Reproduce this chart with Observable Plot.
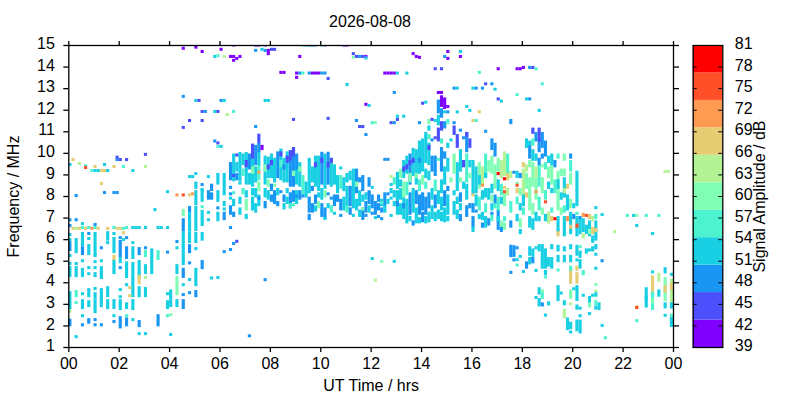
<!DOCTYPE html>
<html><head><meta charset="utf-8">
<script src="https://cdn.jsdelivr.net/npm/d3@7"></script>
<script src="https://cdn.jsdelivr.net/npm/@observablehq/plot@0.6"></script>
<style>
html,body{margin:0;padding:0;background:#fff;width:800px;height:400px;overflow:hidden}
#wrap{position:relative;width:800px;height:400px;font-family:"Liberation Sans",Arial,sans-serif}
#wrap svg{position:absolute;left:0;top:0;background:transparent;overflow:visible}
#title{position:absolute;left:270px;width:200px;top:13px;text-align:center;font-size:16px;color:#000}
</style></head><body><div id="wrap"><div id="title">2026-08-08</div></div>
<script>
const xTicks = [0,2,4,6,8,10,12,14,16,18,20,22,24];
const yTicks = [1,2,3,4,5,6,7,8,9,10,11,12,13,14,15];
const ampTicks = [39,42,45,48,51,54,57,60,63,66,69,72,75,78,81];
const ampEdges = [39,42.82,46.64,50.45,54.27,58.09,61.91,65.73,69.55,73.36,77.18,81];
const palette = ["#8000ff","#4c50fc","#1996f3","#19cfe3","#4df3ce","#80ffb4","#b3f396","#e6cd74","#ff9a52","#ff4f28","#ff0000"];

// each column: [hour, lowMHz, highMHz, dB, lowMHz, highMHz, dB, ...]
const nightColumns = [
[0,6.9,6.9,48,6.63,6.63,48,6.21,6.21,52,5.98,5.98,52,5.52,5.84,50,5.24,5.24,52,4.87,4.87,52,4.31,4.68,52,2.83,3.52,52,2.67,2.67,64,2.03,2.24,50,9.46,9.46,52],
[0.125,6.5,6.5,68,9.69,9.69,68],
[0.25,8.02,8.02,48,6.9,6.9,48,6.5,6.5,64,5.42,5.98,52,4.87,4.87,52,4.31,4.68,52,3.38,3.57,56,3.06,3.06,56,1.48,1.48,52],
[0.375,6.5,6.5,68,9.51,9.51,64],
[0.5,6.72,6.72,52,6.54,6.54,56,5.75,6.26,52,5.33,5.6,50,5,5,52,4.31,4.6,52,3.47,3.47,52,2.83,3.15,52,2.45,2.45,52,2.03,2.03,48],
[0.625,9.4,9.4,56,9.32,9.32,75,6.5,6.5,68],
[0.75,6.54,6.54,56,6.26,6.26,48,6.03,6.03,52,5.33,5.7,54,4.68,4.68,52,4.4,4.4,52,3.38,3.66,52,2.92,3.1,52,2.15,2.27,48],
[0.875,6.5,6.5,71,9.18,9.18,56],
[1,6.68,6.68,48,6.54,6.54,56,5.33,6.26,54,5.24,5.24,52,4.96,4.96,52,4.68,4.68,52,4.31,4.4,52,3.71,3.71,52,3.3,3.47,52,2.64,3.15,54,2.27,2.27,48,2.03,2.03,48,9.37,9.37,68,9.18,9.18,52],
[1.125,6.5,6.5,68,9.18,9.18,52],
[1.25,5.6,5.6,48,5,5,52,4.68,4.22,52,3.29,3.66,54,3.06,3.2,52,2.92,2.92,52,2.03,2.03,48,9.18,9.18,68,8.58,8.58,68],
[1.375,9.18,9.18,68,9.46,9.46,52,8.16,8.16,48],
[1.5,6.5,6.5,68,6,6.3,54,5.84,5.84,52,3.38,3.75,54,2.83,3.15,52,9.18,9.18,52],
[1.75,6.54,6.54,56,6.26,6.26,52,5.42,6.03,54,5.1,5.2,68,4.45,5,54,2.83,3.15,52,2.45,2.45,52,2.18,2.18,48,9.37,9.37,68,8.16,8.16,48],
[1.875,6.5,6.5,68,9.69,9.69,48,9.8,9.8,45,8.16,8.16,48],
[2,6.5,6.5,68,6.07,6.07,48,5.24,5.89,50,4.96,5.1,52,4.68,4.68,48,3.66,3.66,52,3.33,3.33,52,2.78,3.15,54,1.93,2.36,48,9.69,9.69,45],
[2.125,6.5,6.5,56,6.3,6.3,68,9.37,9.37,56,5.98,5.98,52],
[2.25,6.54,6.54,56,6.07,6.07,48,5.15,5.6,50,4.27,4.9,54,3.89,3.89,52,2.83,3,52,2.45,2.45,56,2.03,2.3,48,9.69,9.69,45],
[2.375,3.75,3.75,68,3.38,3.38,68],
[2.5,6.54,6.54,52,5.84,5.84,52,5.15,5.6,54,4.17,4.87,54,3.38,4.08,54,2.78,3.15,54,2.27,2.27,52,9.18,9.18,52],
[2.625,6.54,6.54,52],
[2.75,6.54,6.54,52,5.33,5.56,48,4.27,4.96,54,3.98,4.27,68,3.38,3.75,52,1.99,2.18,48,1.62,1.62,52],
[3,6.54,6.54,52,5.6,5.6,48,5.24,5.42,58,4.45,4.77,52,4.22,4.22,64,3.38,3.71,52,1.62,1.62,52,9.37,9.37,64,9.93,9.93,45],
[3.25,4.45,5.5,54],
[3.375,7.37,7.37,52],
[3.5,6.54,6.54,52,5.1,5.42,58,2.03,2.45,50],
[3.625,6.54,6.54,52],
[3.875,6.54,6.54,52,5.4,5.4,48,3.47,3.47,52,2.83,3.1,52,2.45,2.45,56,8.2,8.2,52],
[4,3.29,3.6,54,2.92,3.15,52,2.5,2.5,60,1.58,1.58,52],
[4.25,5.89,5.89,48,5.6,5.6,52,4.45,4.77,54,3.47,4.22,60,2.92,3.15,52,8.05,8.05,71],
[4.5,7.14,7.33,60,6.44,6.9,50,5.7,6.3,52,4.87,5.6,54,4.27,4.6,50,3.89,3.89,52,3.43,3.43,48,2.83,3.15,48,14.85,14.85,41,12.62,12.62,48,11.18,11.18,45,8.05,8.05,75],
[4.75,7.33,7.47,48,6.44,7.2,52,5.89,6.3,52,5.42,5.7,48,4.9,4.9,48,4.13,4.13,52,3.52,3.52,48,8.9,8.9,52,8.05,8.05,68,11.5,11.5,45],
[4.875,8.9,8.9,52,8.1,8.1,71],
[5,7.65,8.2,54,6.44,7.47,54,5.89,6.26,52,5.56,5.56,52,3.89,4.6,52,3.38,3.57,48,9.04,9.04,52,14.9,14.9,41,12.43,12.43,52,8.4,8.6,52],
[5.125,12.43,12.43,45],
[5.25,7.8,8.27,54,7.5,7.5,56,6.68,7.28,54,6,6.26,52,4.68,4.96,48,8.53,8.53,48,8.3,8.3,52,14.7,14.7,41,11.92,11.92,45,11.5,11.5,45],
[5.375,11.92,11.92,48],
[5.5,8.9,8.9,52,7.9,8.2,50,7.24,7.24,52,6.9,6.9,52],
[5.625,8.3,8.5,48,7.9,8.1,48,4.2,4.2,52],
[5.75,14.47,14.47,52,11.92,11.92,52,10.55,10.55,48],
[5.875,14.5,14.5,56,11.92,11.92,45,10.46,10.46,45,10.3,10.3,56,8.6,9,54,7.8,8.2,54,6.9,7.2,52,7.45,7.45,48,4.22,4.22,52],
[6,14.8,14.8,41,12.43,12.43,48,10.3,10.3,52],
[6.125,14.47,14.47,64,12.43,12.43,52,8.1,9,52,7.6,7.7,52,7.4,7.4,52,6.95,7.2,50,5.42,5.42,48],
[6.25,11.78,11.78,64],
];
const morningColumns = [
[6.375,14.47,14.47,41,8.8,9.5,50,8.4,8.4,48,8.1,8.1,48,7.9,7.9,52,7.2,7.5,50,6.54,6.54,48,5.52,5.52,48],
[6.5,15,15,41,14.47,14.47,41,14.29,14.29,41,11.92,11.92,56,8.75,9.9,52,8.15,8.15,56,7.6,7.8,54,7.1,7.2,48,5.8,5.8,48,8.95,8.95,45],
[6.625,14.38,14.38,41,9.9,9.9,45,9.2,9.5,54,8.8,9,48,5.9,5.9,45],
[6.75,14.47,14.47,41,8.75,9.97,54,8.6,8.6,52,7.7,7.9,52,7.2,7.4,52],
[6.875,9.5,9.9,52,9,9.2,58,8.15,8.3,56],
[7,8.6,9.97,52,9.4,9.6,45,8.0,8.2,52,7.4,7.8,60,7.0,7.1,52],
[7.125,9.3,9.9,48,8.6,9,54,1.52,1.52,48],
[7.25,8.5,10.1,52,9.8,10.36,45,9.1,9.3,60,8.1,8.3,52,7.4,7.9,54],
[7.375,9.5,10.3,50,8.7,9.3,52,8,8.3,54,7.3,7.6,52,15,15,41,14.75,14.75,48,11.22,11.22,48],
[7.5,10.5,10.82,45,10.1,10.4,48,9.5,10,52,8.8,9.4,58,9.1,9.1,71,8.3,8.6,60,7.6,8,52,7.9,7.9,48,15,15,41],
[7.625,10.2,10.3,41,14.8,14.8,52],
[7.75,8.6,9.8,52,9.2,9.4,60,8,8.3,52,7.5,7.7,48,12.43,12.43,52,15,15,41,14.75,14.75,48,4.12,4.12,48],
[7.875,8.9,9.75,54,9.3,9.4,45,8.5,8.7,60,7.9,8.2,52,12.43,12.43,52,14.6,14.75,41],
[8,8.9,9.9,52,9.5,9.6,45,8.3,8.5,48,7.8,8,48,14.8,14.8,45],
[8.125,8.7,9.7,54,8.5,8.5,60,7.7,8.2,48,14.8,14.8,45],
[8.25,8.9,10,50,8.1,8.3,52,7.6,7.7,48],
[8.375,8.8,10.13,52,9.9,10,45,9.4,9.6,56,8.2,8.2,48,13.73,13.73,41],
[8.5,8.7,9.7,54,9.3,9.4,48,7.8,8,48,7.45,7.6,52,13.73,13.73,41],
[8.625,8.7,10,52,9.6,9.8,45,8.2,8.3,52,7.7,7.9,52],
[8.75,8.5,10.05,50,9.7,10.05,45,7.5,8.1,50,7.5,7.6,56],
[8.875,8.5,10.2,50,9.9,10.2,45,9,9.1,60,7.8,8.2,50,11.55,11.55,45,7.6,7.6,56],
[9,9.3,9.9,48,8.6,9.3,54,7.7,8.2,52,8.0,8.0,48,13.7,13.7,41,13.5,13.5,41],
[9.125,8.5,9.5,52,9.2,9.3,60,7.9,8.2,50,14.47,14.47,41,13.7,13.7,48],
[9.25,8.1,8.9,56,8,8,48,13.7,13.7,56,15,15,56],
[9.375,8.0,8.6,52,15,15,52],
[9.5,8.2,9.7,52,7.3,7.9,48,6.95,7.1,48,13.7,13.7,48,15,15,48],
[9.625,8.7,9.3,54,8.3,8.4,48,7.3,7.6,48,13.7,13.7,41,15,15,48],
[9.75,8.5,9.8,52,9.4,9.5,45,7.7,8,50,7.35,7.5,52,13.7,13.7,41,15,15,48],
[9.875,8.3,9.8,54,8,8.1,52,7.5,7.7,60,13.7,13.7,41],
[10,8.6,9.98,50,9.6,9.7,45,7.9,8.3,52,7.1,7.6,50,13.7,13.7,48,15,15,52],
[10.125,8.4,9.9,52,8,8.2,60,7,7.4,50,6.96,6.96,52,13.7,13.7,48,15,15,45],
[10.25,8.6,9.98,50,9.4,9.5,45,8.1,8.1,48,7.5,7.6,52,13.45,13.45,45,11.6,11.6,45],
[10.375,8.5,9.7,52,9.6,9.7,45,7.9,7.9,48,7.3,7.5,56],
[10.5,8.6,9.4,54,7.6,8,50,7.2,7.2,52],
[10.625,8.2,8.9,52,7.8,8,48],
[10.75,8.4,8.9,56,7.4,7.8,50,7.1,7.1,48,9.3,9.3,52],
[10.875,8.3,8.8,54,7.4,7.9,52,15,15,41],
[11,7.5,8.4,52,8.7,9,52,7.3,7.5,56,13.17,13.17,52,15,15,41],
[11.125,8.8,9.1,52,7.6,8.4,50,7.2,7.4,48],
[11.25,7.5,9.2,52,14.43,14.43,60,14.6,14.6,45,7.1,7.1,52],
[11.375,8.2,9.2,50,7.4,7.8,54,8.5,8.6,60,11.5,11.5,48,14.47,14.47,45],
[11.5,8.7,8.8,48,7.6,8.2,52,7.1,7.3,52,14.47,14.47,48,11.22,11.22,45],
[11.625,8.3,8.9,48,7.8,8,52,6.96,7.4,50,7.4,7.4,60,14.47,14.47,45,11.22,11.22,45],
[11.75,7.9,8.1,52,7.3,7.7,48,7.1,7.1,48,14.47,14.47,41,14.4,14.4,52,12.25,12.25,41,10.85,10.85,48],
[11.875,8.5,8.8,48,7.7,8.2,50,7.3,7.5,52,12.2,12.2,52,8.1,8.1,48],
[12,8.4,8.4,52,7.5,8,48,7.2,7.2,48,11.4,11.4,56,5.1,5.1,52],
[12.125,7.2,7.7,50,7.0,7.0,52,11.4,11.4,60,4.1,4.1,64],
[12.25,7.8,8,48,7.4,7.6,48,7.05,7.05,52,7.05,7.05,48],
[12.375,7.6,7.8,52,7.3,7.4,48,7.7,7.7,56,4.97,4.97,60,6.95,6.95,48],
[12.5,7.6,8.1,50,13.7,13.7,41,9.7,9.7,48,7.3,7.5,52],
[12.625,13.7,13.7,41,9.7,9.7,48,8.1,8.1,50,7.7,7.8,52],
[12.75,8.9,8.9,64,8.53,8.53,52,8.2,8.3,52,7.9,7.9,52,7.1,7.1,52,13.7,13.7,41,11.4,11.4,45],
[12.875,13.7,13.7,41,12.8,12.8,48,11.4,11.4,48,8.6,8.8,56,8,8.2,52,7.6,7.7,52,4.97,4.97,52],
];
const afternoonColumns = [
[13,13.7,13.7,52,11.7,11.7,52,11.55,11.55,45,8.4,9.05,54,7.2,8.2,52,7.6,7.7,48],
[13.125,8.9,9.2,60,7.9,8.3,52,7.2,7.6,52,8.5,8.7,52],
[13.25,8.9,9.6,52,9.2,9.3,45,8,8.6,60,7,7.9,52,11.7,11.7,52,7.5,7.6,48],
[13.375,9.1,9.8,52,9.3,9.4,45,8.1,8.6,56,6.8,7.8,54,13.7,13.7,52],
[13.5,8.6,9.9,50,8.7,9,60,7.2,8.1,50,6.9,7,52,9.5,9.6,45],
[13.625,9,10.16,52,9.6,9.7,45,7.3,8.3,52,14.6,14.6,41,6.7,6.8,48],
[13.75,8.6,10.1,54,8.9,9,60,7.7,8.2,50,6.8,7.4,52,14.47,14.47,41],
[13.875,9.1,10.5,52,9.6,9.7,48,8.3,8.7,56,7.2,8,50,6.8,6.95,52,14.43,14.43,41,11.4,11.4,48],
[14,9.2,10.6,54,8.6,8.9,60,7.4,8.1,50,6.85,7.2,48,12.3,12.3,45],
[14.125,9.6,10.9,52,8.9,9.2,54,8.4,8.6,56,7.2,7.9,50,6.8,7,52,12.35,12.35,52],
[14.25,9.5,10.4,52,10.7,10.8,56,11.1,11.2,52,8.8,9.1,54,7.5,8.1,50,6.85,7.2,52,10.2,10.3,45,11.4,11.5,60],
[14.375,9.2,9.8,50,7.9,8.3,52,7,7.5,52,10.6,10.6,48,11.55,11.55,45],
[14.5,9,9.8,50,8.3,8.7,56,7.5,8,50,6.9,7.2,52,13.9,13.9,45,11.5,11.5,52,10.7,10.7,45],
[14.625,12.8,12.8,41,11.9,12.4,48,11.35,11.7,52,10.6,11.1,45,9.7,9.7,56,7.7,8.2,52,7,7.3,52],
[14.75,13.9,13.9,45,12.8,12.8,41,12.2,12.6,41,11.7,12,48,11.1,11.4,45,9.2,10.2,50,8.2,8.7,54,7.4,7.9,52,6.9,7.2,52,10.5,10.6,56],
[14.875,14.47,14.47,48,12.1,12.5,41,11.9,11.9,52,11.2,11.4,48,9.8,10,48,8.6,9.3,54,7.6,8.2,50,6.85,7.4,52],
[15,14.7,14.7,41,14.38,14.38,41,12.15,12.15,41,11.9,11.9,48,11.4,11.5,56,10.3,10.4,52,9.2,9.7,54,8.3,8.4,50,7.2,8,52,6.9,7,52],
[15.125,10.6,10.6,52,8.7,8.8,60],
[15.25,13,13,48,11.4,11.4,48,10.9,11.2,45,9.1,9.9,60,8.1,8.2,52,7.2,7.7,52],
[15.375,13,13,52,11.9,11.9,52,10.3,10.8,45,8.3,9.5,52,7.7,7.9,52,7,7.3,52],
[15.5,14.7,14.7,52,14.47,14.47,41,11.05,11.05,48,9.2,10.1,54,8.7,8.8,60,7.8,8.1,48,7.4,7.6,52,6.9,7.1,48],
[15.625,10.7,10.7,48,9.4,9.6,45,8.4,8.6,52],
[15.75,12.15,12.15,52,10.1,10.9,48,10.8,10.9,45,8.7,9.9,56,7.9,8.5,52,7.1,7.5,50],
[15.875,11.97,11.97,52,10.3,10.6,45,9.4,9.6,52,8.9,9,60,7.5,7.6,48],
[16,13,13,52,11.5,11.5,68,8.1,9.6,54,8.05,8.05,68,7.3,7.6,48,6.6,7,50,6.4,6.5,52],
[16.125,13,13,48,11.5,11.5,56,8.2,9.3,52,7.6,8,54,7.3,7.3,48],
[16.25,13.73,13.73,56,11.9,11.9,68,8.4,9.5,60,8.6,8.9,52,7.4,7.9,56,7,7.1,52],
[16.375,13,13,48,8.6,9.3,64,8.5,8.5,71,7.9,8.2,52,6.95,7.2,52,6.6,6.7,48],
[16.5,13.2,13.2,45,11,11,48,8.9,9.9,56,8.9,9,52,8,8.3,52,7.3,7.6,56,6.6,7,52],
[16.625,9.2,9.6,60,7.9,8.3,54,6.7,6.9,48],
[16.75,13.2,13.2,48,10.2,10.6,48,9.1,9.8,60,8.2,8.5,52,7.8,8,60,7.4,7.6,52,6.9,7.1,56,7.2,7.2,48],
[16.875,12.95,12.95,52,9.9,10.4,50,8.4,9.4,60,7.7,8,48,7.5,7.6,56],
[17,13.9,13.9,41,12.5,12.5,45,9.2,9.7,60,9.04,9.04,79,8.3,8.7,54,7.4,7.9,56,6.5,7.3,50,6.9,7,52],
[17.125,12.4,12.4,52,8.9,9.6,64,8.1,8.5,56,7.7,7.9,52,6.6,6.8,60,6.4,6.5,48],
[17.25,9,10,62,8.8,8.8,79,8.4,8.4,68,7.6,8.1,60,8.2,8.2,75,6.9,7,56,6.5,6.7,60],
[17.375,9.1,9.9,56,8.8,9,68,8.1,8.3,64],
[17.5,11.4,11.5,48,8.9,9.1,64,7.3,7.7,56,6.6,6.8,50,5.24,5.67,48,4.46,4.46,48],
[17.625,5.25,5.65,48,5.04,5.04,48,9.1,9.1,48],
];
const eveningColumns = [
[17.75,13.9,13.9,41,12.7,12.7,56,8.9,9.1,52,8.6,8.6,60,8.5,8.5,75,8.2,8.3,68,7.7,7.9,56,6.9,7.1,52,5.6,5.6,48,5.05,5.05,52,4.8,4.8,56],
[17.875,13.9,13.9,41,8.9,9,48,8.1,8.3,60,7.4,7.6,52,6.6,6.9,60,6.3,6.4,52,5.2,5.2,52],
[18,13.96,13.96,41,9.4,9.5,68,8.1,9.2,64,7.6,8,52,7.2,7.4,56,4.5,4.5,52],
[18.125,12.5,12.5,52,10.3,10.6,52,9.2,9.4,64,8.4,9,60,8.0,8.1,68,4.9,4.9,48,4.7,4.8,48],
[18.25,12.5,12.5,48,13.96,13.96,48,10.4,10.5,52,9.8,10.4,50,9.4,9.6,60,7.4,8.8,60,6.6,7.0,54,5.3,5.6,52,4.9,5.1,52],
[18.375,13.96,13.96,45,10.95,11.1,45,10.4,10.6,56,9.7,10.1,52,8.5,9.5,60,7.2,7.6,60,6.5,6.9,52,5.25,5.5,52,4.95,5.1,48],
[18.5,13.9,13.9,56,10.6,10.9,48,9.7,9.9,54,8.9,9.3,64,8.2,8.2,71,7.9,8.8,60,6.9,7.2,52,5.6,5.6,52,4.55,4.55,52,3.3,3.3,52],
[18.625,11.97,11.97,52,10.1,10.6,50,10.6,11.1,45,9.5,9.7,48,8.5,9.4,56,7.4,7.9,56,6.9,7,52,5.5,5.7,52,3.5,3.7,52,2.95,3.2,54],
[18.75,13.2,13.2,56,10.3,10.9,48,9.8,9.9,48,9.4,9.4,60,8.2,8.8,60,7.2,7.4,60,5.2,5.7,52,4.7,5.1,52,3.6,3.6,60,3.3,3.5,56,2.95,3,48],
[18.875,9.9,10.5,48,9.3,9.5,56,7.9,8.2,56,7.73,7.73,75,6.9,7.1,52,5,5.5,52,4.7,5,52,4.4,4.5,52,4.25,4.25,56,2.48,2.48,52],
[19,9.6,9.8,52,8.9,9.3,60,8.4,8.6,52,6.8,7.2,64,4.8,5.1,52,3,3.05,52],
[19.125,9.5,9.9,52,8.6,9.4,60,8.2,8.3,52,7.3,7.4,56,6.9,7,68,5.6,5.7,52,4.7,5.1,52],
[19.25,9.4,9.6,48,8.2,8.7,56,6.95,6.95,79],
[19.375,9.8,9.9,56,7.4,9.1,60,8.4,8.7,54,6.4,7,52,6.2,6.3,68,5.5,5.67,52,5,5.2,52,4.57,4.57,56,3.2,3.8,52],
[19.5,7.9,8.1,52,9.0,9.2,60,7.2,7.4,60,3.5,3.5,52],
[19.625,9.7,9.9,60,9,9.2,60,8,8.8,52,8.2,8.3,64,7.3,7.5,56,6.4,7,52,6.2,6.3,52,5.5,5.6,52,5,5.2,52,3,3.1,52,2.4,2.7,64],
[19.75,8.4,8.5,68,7.4,8,52,6.9,7,71,1.85,2.3,52],
[19.875,9.8,9.9,48,9.2,9.6,56,8.6,9,60,7.5,7.8,60,6.3,7.2,54,6.55,6.6,68,5.6,5.7,52,4,4.6,68,3.3,3.6,60,3,3,64,1.9,2.1,52,1.7,1.7,52,5,5.2,52,4.6,4.7,56],
[20,7.5,7.6,52,7,7.1,48,3.7,3.7,52],
[20.125,8.3,9.1,52,7.6,8.2,52,7.2,7.2,56,6.2,7,52,6.6,6.65,75,5.3,5.67,52,5.04,5.04,52,4.6,4.7,68,3.2,3.8,52,2.8,2.9,52,1.8,2.2,52,4,4.4,68],
[20.25,7,7,50,6.3,6.9,52,5.65,5.65,56,5.2,5.4,52,4.7,5,52,2.8,2.8,52,2.45,2.45,52,1.7,2.2,52],
[20.375,7.1,7.15,71,6.4,6.9,52,6.1,6.2,64,4.4,4.5,56,3.4,3.4,52],
[20.5,7.1,7.1,75,6.3,6.6,52,5.4,5.5,52],
[20.625,7.0,7.1,68,6.2,6.8,52,6.3,6.4,60,5.5,5.5,52,3.1,3.3,52,2.9,3,60,2.55,2.55,52],
[20.75,6.9,7,64,6.3,6.5,68,5.9,6.1,52,5.5,5.6,52,3.4,3.4,52],
[20.875,7.46,7.46,52,7,7.1,56,6.2,6.8,52,6.4,6.45,68,6,6.1,52,5.6,5.7,52,5.3,5.3,52,4.65,4.65,52,3.9,3.9,60,3.4,3.5,52,3,3.1,56,2.8,2.85,52,3.6,3.6,64],
[21,2.78,3,52],
[21.125,7.14,7.14,52,5.0,5.0,48,2.0,2.0,52],
[21.25,1.43,1.43,56],
[21.625,6.35,6.35,64],
[22.125,7.1,7.1,56],
[22.375,7.1,7.1,52],
[22.5,7.1,7.1,60,6.63,6.63,52,2.83,2.83,75,2.83,2.86,68,2.22,2.22,56],
[22.875,7.1,7.1,56,2.9,3.7,54,3.2,3.3,52],
[23.125,6.26,6.26,52,4.48,4.48,52,3.5,4.25,68,2.78,3.5,56,3.1,3.2,60],
[23.375,7.1,7.1,56,4.1,4.37,64,3.4,3.6,52],
[23.625,9.14,9.14,64,4.48,4.63,52,3.2,4.17,60,3.6,3.8,68,2.86,3,52,2.47,2.47,52],
[23.75,9.14,9.14,64],
[23.875,4.37,4.37,52,3.1,4.1,64,3.7,3.9,68,2.85,3,52,2.47,2.47,56,2,2.32,52],
];

const spans = [];
for (const col of [...nightColumns, ...morningColumns, ...afternoonColumns, ...eveningColumns]) {
  for (let i = 1; i < col.length; i += 3) {
    const lo = Math.min(col[i], col[i+1]), hi = Math.max(col[i], col[i+1]);
    spans.push({t: col[0], lo, hi, db: col[i+2]});
  }
}
spans.sort((a,b) => (b.hi - b.lo) - (a.hi - a.lo));

const pad2 = d => String(d % 24).padStart(2, "0");
const colorScale = {type:"threshold", domain: ampEdges.slice(1,-1), range: palette};
const base = {width:800, height:400, marginTop:45, marginBottom:53, style:{fontFamily:'"Liberation Sans",Arial,sans-serif', fontSize:"16px", background:"transparent", color:"#000"}};

const main = Plot.plot({...base, marginLeft:68.3, marginRight:127,
  x:{domain:[0,24]}, y:{domain:[1,15]}, color:colorScale,
  marks:[
    Plot.rect(spans, {x1:"t", x2:d=>d.t+0.125, y1:d=>d.lo-0.07, y2:d=>d.hi+0.07, fill:"db", clip:true}),
    Plot.frame({stroke:"#000", strokeWidth:1.3}),
    Plot.axisX({anchor:"bottom", ticks:xTicks, tickFormat:pad2, tickSize:5, tickPadding:5, strokeWidth:1.3, label:"UT Time / hrs", labelAnchor:"center", labelArrow:"none", labelOffset:43, fontSize:16}),
    Plot.axisX({anchor:"top", ticks:xTicks, tickFormat:()=>"", tickSize:5, strokeWidth:1.3, label:null}),
    Plot.axisY({anchor:"left", ticks:yTicks, tickFormat:()=>"", tickSize:5, strokeWidth:1.3, label:"Frequency / MHz", labelAnchor:"center", labelArrow:"none", labelOffset:61, fontSize:16}),
    Plot.axisY({anchor:"left", ticks:yTicks, tickFormat:d=>d, tickSize:0, tickPadding:14, dy:-1.5, label:null, fontSize:16}),
    Plot.axisY({anchor:"right", ticks:yTicks, tickFormat:()=>"", tickSize:5, strokeWidth:1.3, label:null})
  ]});
const wrap = document.getElementById("wrap");
wrap.appendChild(main);

const bands = palette.map((c,i)=>({lo:ampEdges[i], hi:ampEdges[i+1], mid:(ampEdges[i]+ampEdges[i+1])/2}));
const bar = Plot.plot({...base, marginLeft:692.7, marginRight:77.7,
  y:{domain:[39,81]}, color:colorScale,
  marks:[
    Plot.rect(bands, {y1:"lo", y2:"hi", fill:"mid"}),
    Plot.tickY(ampTicks, {y:d=>d, stroke:"#000", insetRight:25.6}),
    Plot.tickY(ampTicks, {y:d=>d, stroke:"#000", insetLeft:25.6}),
    Plot.frame({stroke:"#000", strokeWidth:1.3}),
    Plot.axisY({anchor:"right", ticks:ampTicks, tickFormat:d=>d, tickSize:0, tickPadding:12, dy:-1.5, label:null, fontSize:16}),
    Plot.text(["Signal Amplitude / dB"], {frameAnchor:"middle", rotate:-90, text:d=>d, fontSize:16, dx:52, fill:"#000"})
  ]});
wrap.appendChild(bar);
</script></body></html>
